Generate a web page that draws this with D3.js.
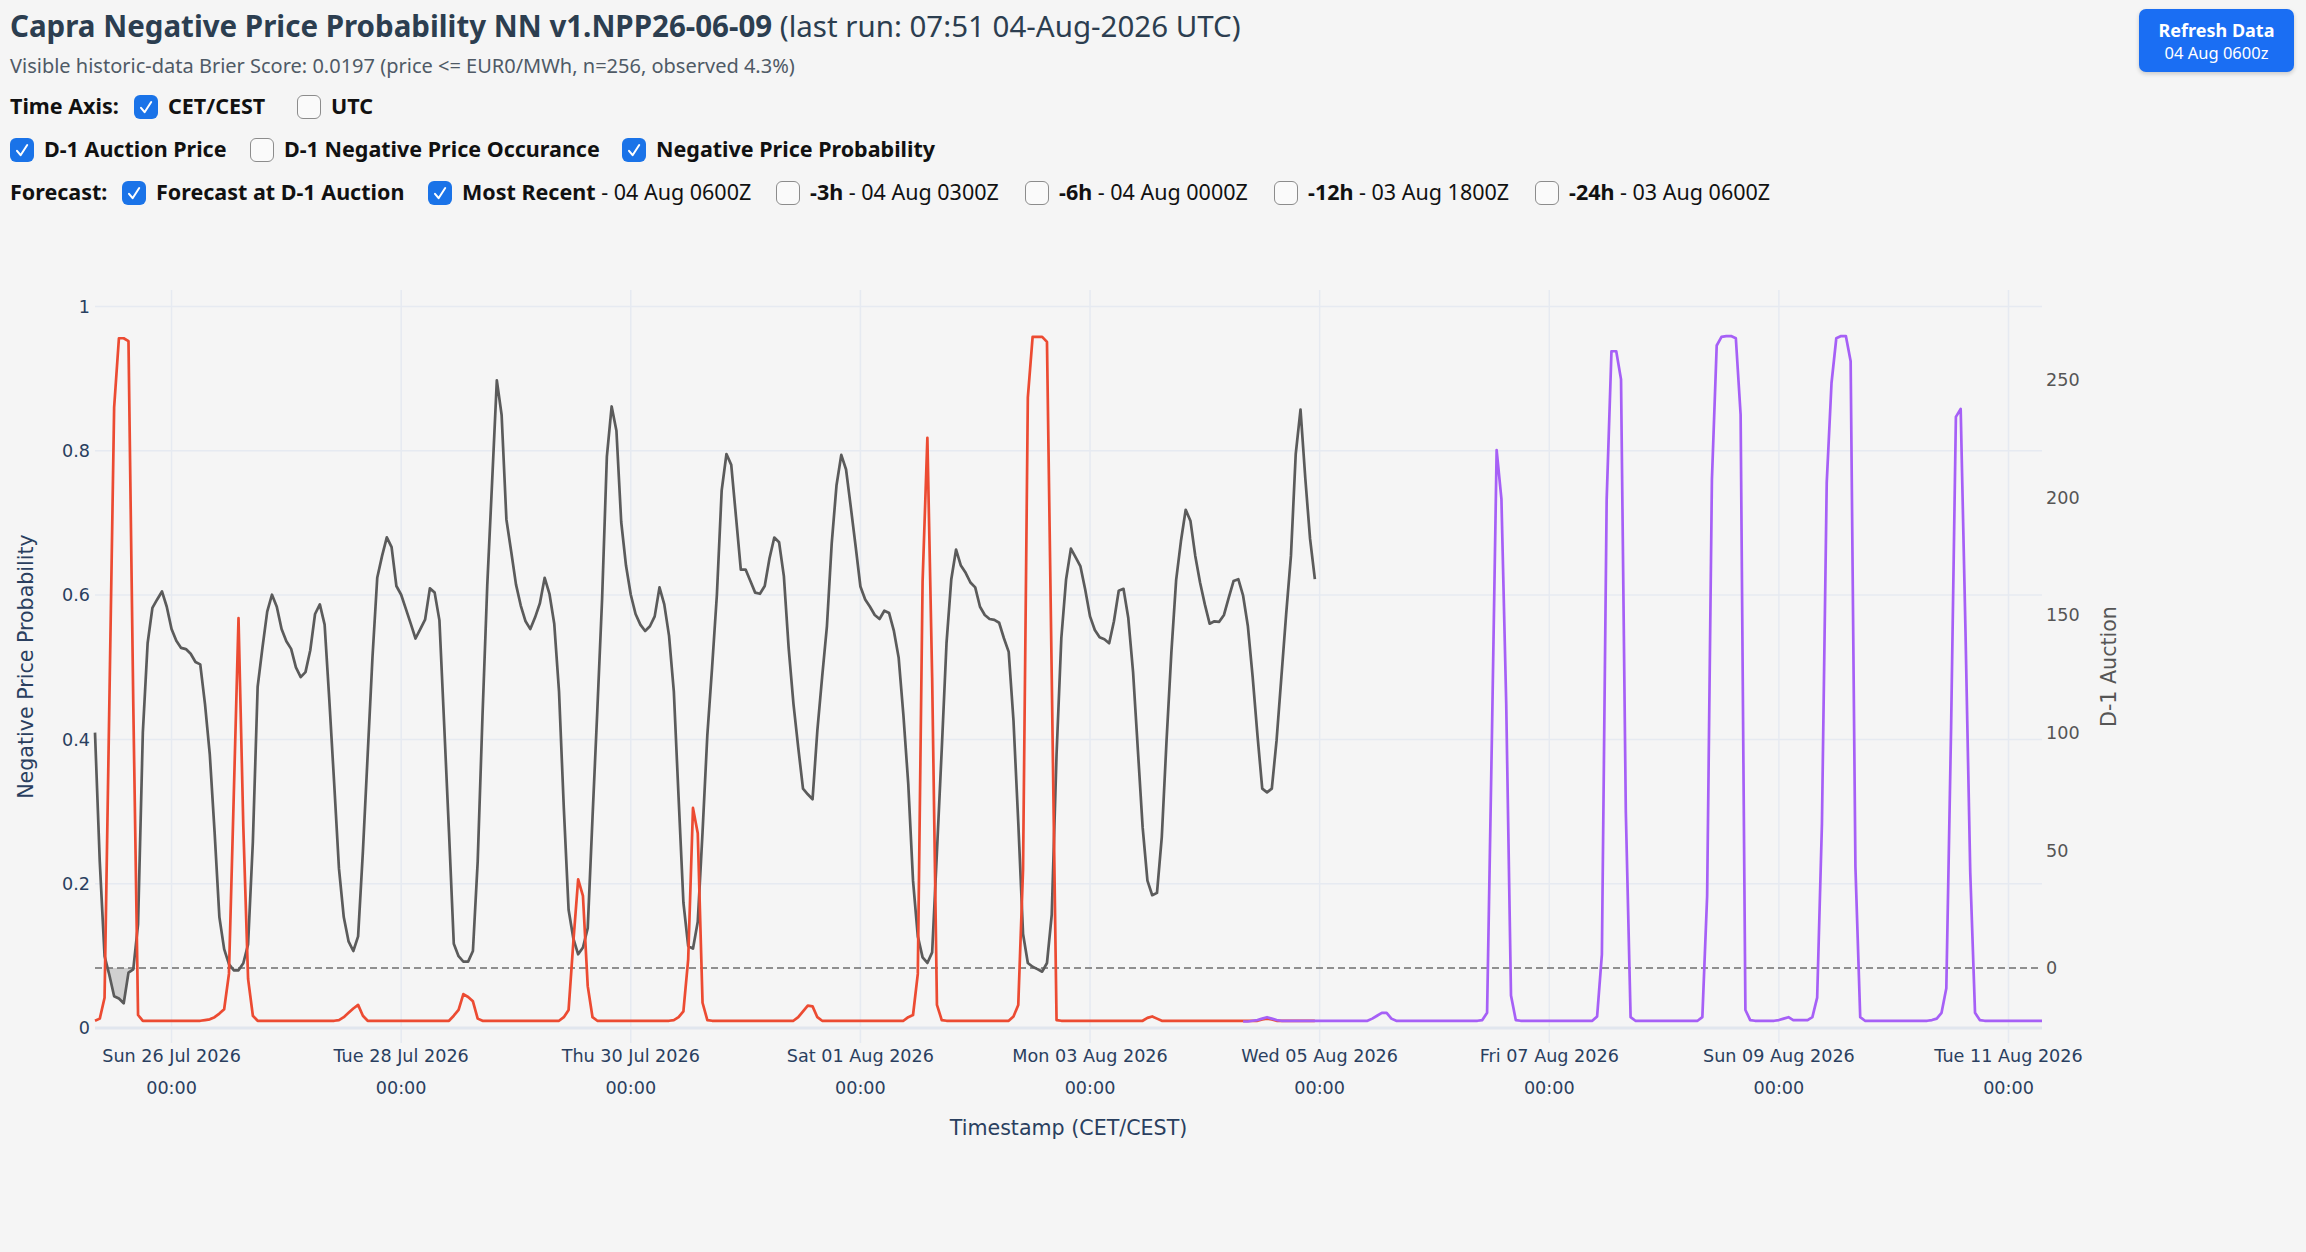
<!DOCTYPE html>
<meta charset="utf-8">
<script src="https://d3js.org/d3.v7.min.js"></script>
<style>
  body { margin: 0; background: #f5f5f5; width: 2306px; height: 1252px; overflow: hidden; position: relative;
         font-family: "Noto Sans", "Open Sans", Arial, sans-serif; }
  .abs { position: absolute; white-space: nowrap; }
  .title { left: 10px; top: 5px; font-size: 29.5px; color: #2c3e50; }
  .sub { left: 10px; top: 52px; font-size: 20px; color: #4f5a66; }
  .lbl { font-size: 21.5px; line-height: 26px; color: #111; font-weight: bold; }
  .lbl .n { font-weight: normal; }
  .cb { position: absolute; width: 24px; height: 24px; border-radius: 6px; box-sizing: border-box; }
  .cb.on { background: #1a73e8; }
  .cb.off { background: #fafafa; border: 1.6px solid #8c8c8c; }
  .cb svg { position: absolute; left: 0; top: 0; }
  .btn { left: 2139px; top: 9px; width: 155px; height: 63px; background: #1a6ef3; border-radius: 7px;
         box-shadow: 0 2px 4px rgba(0,0,0,0.18); color: #fff; text-align: center; }
  .btn .a { font-weight: bold; font-size: 18px; line-height: 22px; margin-top: 10px; }
  .btn .b { font-size: 16.5px; line-height: 20px; margin-top: 2px; }
  #chart { position: absolute; left: 0; top: 0; }
</style>

<div class="abs title"><b>Capra Negative Price Probability NN v1.NPP26-06-09</b> (last run: 07:51 04-Aug-2026 UTC)</div>
<div class="abs sub">Visible historic-data Brier Score: 0.0197 (price &lt;= EUR0/MWh, n=256, observed 4.3%)</div>
<div class="abs btn"><div class="a">Refresh Data</div><div class="b">04 Aug 0600z</div></div>
<div id="boxes"></div>
<svg id="chart" width="2306" height="1252"></svg>

<script>
// ---- data (hourly, CET/CEST) ----
var priceStart = "2026-07-25 08:00";   // D-1 auction price + forecast at D-1 auction
var recentStart = "2026-08-04 08:00";  // most recent forecast run

// D-1 auction price, EUR/MWh
var d1Price = [
  100,45,5,-3,-12,-13,-15,-2,-0.6,18.5,100,138,153,156.6,160,153.5,
  144,139,136,135.5,133.5,130,129,112,90.6,57.7,21.6,8,1.6,-1,-1,2,10,53.6,119.5,136,151.4,158.6,153.5,144,
  138.8,135.6,127.7,123.6,125.7,135,150.4,154.5,145.9,113.3,78.3,42.2,21.6,11.3,7.2,13.4,49.4,90.6,131.8,165.8,175,183,178.8,162.3,
  158.6,152.5,146.3,140,144,148,161.3,159.5,147.7,103,57.7,10.3,5,2.7,2.7,7.2,45.3,107,162.7,206,249.7,235,190.6,177,
  163,154,147.3,144,149,155,165.8,159,146.3,117.4,68,24.7,12.4,5.8,8.7,16.9,63.9,109.2,156.6,217.3,238.6,228.3,189.5,171,
  158.6,150.4,145.9,143.2,145.2,149.4,161.7,154.5,141.1,117.4,72.1,27.8,9.3,8.2,19.6,57.7,98.9,127.7,158.6,202.9,218.4,213.8,191.6,169.3,
  169.3,164.4,159.5,159,162.3,174.1,182.9,180.9,166.5,136,112.3,93.7,76.2,73.8,71.7,100.9,123.6,145.2,180.3,205,218,211.8,195.7,179.2,
  162.1,156.6,153.5,150,148.3,151.8,150.8,143.2,131.8,107.1,78.3,37.1,13.4,4.5,2.1,6.6,49.4,92.7,138,165.2,177.8,171,167.9,163.8,
  161.7,153.5,150,148.3,147.9,146.7,140.1,134.3,105.1,61.8,14.4,2.1,0.5,-0.5,-1.6,2.1,22.7,90.6,140.1,165.2,178.2,174.5,170.6,160.7,
  149.4,143.6,140.5,139.7,138,147.3,160.3,161.1,148.7,125.7,92.7,59.7,37.1,30.9,31.9,55.6,96.8,133.9,164.8,181.3,194.7,189.9,175.1,163.8,
  154.5,146.3,147.3,147.1,150,157.4,164.4,165.2,158.2,145.2,123.6,98.9,76.2,74.6,76.2,96.8,123.6,150.4,175.1,218.4,237.3,208.1,182.3,165.2
];

// negative price probability, forecast at D-1 auction
var probD1 = [
  0.010,0.013,0.042,0.45,0.860,0.956,0.956,0.952,0.45,0.018,0.010,
  0.01,0.01,0.01,0.01,0.01, 0.01,0.01,0.01,0.01,0.01, 0.01,0.01,
  0.011,0.012,0.015,0.020,0.026,0.075,0.32,0.568,0.28,0.068,0.017,
  0.01,0.01,0.01,0.01,0.01, 0.01,0.01,0.01,0.01,0.01, 0.01,0.01,0.01,0.01,0.01, 0.01,0.01,
  0.011,0.015,0.021,0.027,0.032,0.017,
  0.01,0.01,0.01,0.01,0.01, 0.01,0.01,0.01,0.01,0.01, 0.01,0.01,0.01,0.01,0.01, 0.01,0.01,0.01,
  0.017,0.025,0.047,0.043,0.037,0.013,
  0.01,0.01,0.01,0.01,0.01, 0.01,0.01,0.01,0.01,0.01, 0.01,0.01,0.01,0.01,0.01, 0.01,0.01,
  0.015,0.025,0.12,0.206,0.183,0.058,0.015,
  0.01,0.01,0.01,0.01,0.01, 0.01,0.01,0.01,0.01,0.01, 0.01,0.01,0.01,0.01,0.01, 0.01,
  0.011,0.015,0.023,0.095,0.305,0.27,0.035,0.011,
  0.01,0.01,0.01,0.01,0.01, 0.01,0.01,0.01,0.01,0.01, 0.01,0.01,0.01,0.01,0.01, 0.01,0.01,0.01,
  0.015,0.023,0.031,0.030,0.015,
  0.01,0.01,0.01,0.01,0.01, 0.01,0.01,0.01,0.01,0.01, 0.01,0.01,0.01,0.01,0.01, 0.01,0.01,0.01,
  0.015,0.018,0.075,0.619,0.818,0.485,0.032,0.011,
  0.01,0.01,0.01,0.01,0.01, 0.01,0.01,0.01,0.01,0.01, 0.01,0.01,0.01,0.01,
  0.016,0.032,0.22,0.874,0.958,0.958,0.958,0.951,0.485,0.011,
  0.01,0.01,0.01,0.01,0.01, 0.01,0.01,0.01,0.01,0.01, 0.01,0.01,0.01,0.01,0.01, 0.01,0.01,0.01,
  0.014,0.016,0.013,
  0.01,0.01,0.01,0.01,0.01, 0.01,0.01,0.01,0.01,0.01, 0.01,0.01,0.01,0.01,0.01, 0.01,0.01,0.01,0.01,0.01, 0.01,
  0.012,0.013,0.012,
  0.01,0.01,0.01,0.01,0.01, 0.01,0.01,0.01,0.01
];

// negative price probability, most recent run (04 Aug 0600Z)
var probRecent = [
  0.009,0.009,0.010,0.011,0.013,0.015,0.013,0.011,
  0.01,0.01,0.01,0.01,0.01, 0.01,0.01,0.01,0.01,0.01, 0.01,0.01,0.01,0.01,0.01, 0.01,0.01,0.01,0.01,
  0.013,0.017,0.021,0.021,0.013,
  0.01,0.01,0.01,0.01,0.01, 0.01,0.01,0.01,0.01,0.01, 0.01,0.01,0.01,0.01,0.01, 0.01,0.01,0.01,
  0.011,0.021,0.40,0.801,0.733,0.45,0.045,0.011,
  0.01,0.01,0.01,0.01,0.01, 0.01,0.01,0.01,0.01,0.01, 0.01,0.01,0.01,0.01,0.01, 0.01,
  0.016,0.102,0.733,0.938,0.938,0.899,0.30,0.015,
  0.01,0.01,0.01,0.01,0.01, 0.01,0.01,0.01,0.01,0.01, 0.01,0.01,0.01,0.01,
  0.015,0.183,0.760,0.946,0.958,0.959,0.959,0.956,0.850,0.025,0.011,
  0.01,0.01,0.01,0.01,0.01,
  0.011,0.013,0.015,0.011,0.011,0.011,0.011,0.015,0.042,0.283,0.756,0.894,0.956,0.959,0.959,0.924,0.223,0.015,
  0.01,0.01,0.01,0.01,0.01, 0.01,0.01,0.01,0.01,0.01, 0.01,0.01,0.01,0.01,
  0.011,0.013,0.021,0.055,0.417,0.847,0.858,0.552,0.216,0.021,0.011,
  0.01,0.01,0.01,0.01,0.01, 0.01,0.01,0.01,0.01,0.01, 0.01,0.01,0.01
];

var probTicks = [0, 0.2, 0.4, 0.6, 0.8, 1];
var priceTicks = [0, 50, 100, 150, 200, 250];
var tickStart = "2026-07-26 00:00", tickEnd = "2026-08-12 00:00";

// ---- header check boxes ----
var rows = [
  {y: 107, items: [
    {x: 10, label: "Time Axis:"},
    {x: 134, box: true, on: true, label: "CET/CEST"},
    {x: 297, box: true, on: false, label: "UTC"}]},
  {y: 150, items: [
    {x: 10, box: true, on: true, label: "D-1 Auction Price"},
    {x: 250, box: true, on: false, label: "D-1 Negative Price Occurance"},
    {x: 622, box: true, on: true, label: "Negative Price Probability"}]},
  {y: 193, items: [
    {x: 10, label: "Forecast:"},
    {x: 122, box: true, on: true, label: "Forecast at D-1 Auction"},
    {x: 428, box: true, on: true, label: "Most Recent", rest: " - 04 Aug 0600Z"},
    {x: 776, box: true, on: false, label: "-3h", rest: " - 04 Aug 0300Z"},
    {x: 1025, box: true, on: false, label: "-6h", rest: " - 04 Aug 0000Z"},
    {x: 1274, box: true, on: false, label: "-12h", rest: " - 03 Aug 1800Z"},
    {x: 1535, box: true, on: false, label: "-24h", rest: " - 03 Aug 0600Z"}]}
];
var boxes = d3.select("#boxes");
rows.forEach(function(r) {
  r.items.forEach(function(it) {
    var tx = it.x;
    if (it.box) {
      var b = boxes.append("div").attr("class", "cb " + (it.on ? "on" : "off"))
        .style("left", it.x + "px").style("top", (r.y - 12) + "px");
      if (it.on) b.html('<svg width="24" height="24" viewBox="0 0 24 24"><path d="M7 12.8l3.6 4.4 6.6-10.2" stroke="#fff" stroke-width="2" fill="none" stroke-linecap="round" stroke-linejoin="round"/></svg>');
      tx = it.x + 34;
    }
    var t = boxes.append("div").attr("class", "abs lbl")
      .style("left", tx + "px").style("top", (r.y - 14) + "px");
    t.append("span").text(it.label);
    if (it.rest) t.append("span").attr("class", "n").text(it.rest);
  });
});

// ---- chart ----
var parse = d3.utcParse("%Y-%m-%d %H:%M");
var t0 = parse(priceStart), t1 = parse(recentStart);
var priceData = d1Price.map(function(v, i) { return {t: d3.utcHour.offset(t0, i), v: v}; });
var d1Data = probD1.map(function(v, i) { return {t: d3.utcHour.offset(t0, i), v: v}; });
var recentData = probRecent.map(function(v, i) { return {t: d3.utcHour.offset(t1, i), v: v}; });

var plotL = 95, plotR = 2042, plotT = 290, plotB = 1043;
var svg = d3.select("#chart");
var font = '"DejaVu Sans", Verdana, sans-serif';

var x = d3.scaleUtc()
  .domain([t0, recentData[recentData.length - 1].t])
  .range([plotL, plotR]);
var yL = d3.scaleLinear().domain([-0.0208, 1.0229]).range([plotB, plotT]);
var yR = d3.scaleLinear().domain([-31.9, 288.1]).range([plotB, plotT]);

var xTicks = d3.utcDay.range(parse(tickStart), parse(tickEnd)).filter(function(d, i) { return i % 2 === 0; });

// grid
svg.append("g").selectAll("line").data(xTicks).join("line")
  .attr("x1", function(d) { return x(d); }).attr("x2", function(d) { return x(d); })
  .attr("y1", plotT).attr("y2", plotB)
  .attr("stroke", "#e6eaf1").attr("stroke-width", 1.5);
svg.append("g").selectAll("line").data(probTicks.filter(function(d) { return d > 0; })).join("line")
  .attr("x1", plotL).attr("x2", plotR)
  .attr("y1", function(d) { return yL(d); }).attr("y2", function(d) { return yL(d); })
  .attr("stroke", "#e6eaf1").attr("stroke-width", 1.5);
svg.append("line")
  .attr("x1", plotL).attr("x2", plotR).attr("y1", yL(0)).attr("y2", yL(0))
  .attr("stroke", "#e1e6ee").attr("stroke-width", 3);

// price zero reference
svg.append("line")
  .attr("x1", plotL).attr("x2", plotR).attr("y1", yR(0)).attr("y2", yR(0))
  .attr("stroke", "#6e6e6e").attr("stroke-width", 1.5).attr("stroke-dasharray", "7,4");

// negative price fill
svg.append("path").datum(priceData)
  .attr("fill", "rgba(110,110,110,0.28)")
  .attr("d", d3.area()
    .x(function(d) { return x(d.t); })
    .y0(yR(0))
    .y1(function(d) { return yR(Math.min(d.v, 0)); }));

function drawLine(data, yScale, color) {
  svg.append("path").datum(data)
    .attr("fill", "none").attr("stroke", color).attr("stroke-width", 2.7)
    .attr("stroke-linejoin", "round")
    .attr("d", d3.line().x(function(d) { return x(d.t); }).y(function(d) { return yScale(d.v); }));
}
drawLine(priceData, yR, "#5b5b5b");
drawLine(d1Data, yL, "#ec4b32");
drawLine(recentData, yL, "#a660f6");

// x tick labels
var xl = svg.append("g").attr("font-family", font).attr("font-size", 17.6).attr("fill", "#2a3f5f")
  .attr("text-anchor", "middle");
xl.selectAll("text.d").data(xTicks).join("text").attr("class", "d")
  .attr("x", function(d) { return x(d); }).attr("y", 1062)
  .text(d3.utcFormat("%a %d %b %Y"));
xl.selectAll("text.h").data(xTicks).join("text").attr("class", "h")
  .attr("x", function(d) { return x(d); }).attr("y", 1094)
  .text(d3.utcFormat("%H:%M"));

// left ticks
svg.append("g").attr("font-family", font).attr("font-size", 17.6).attr("fill", "#2a3f5f")
  .attr("text-anchor", "end")
  .selectAll("text").data(probTicks).join("text")
  .attr("x", 90).attr("y", function(d) { return yL(d); }).attr("dy", "0.36em")
  .text(function(d) { return (d === 0 || d === 1) ? d : d3.format(".1f")(d); });

// right ticks
svg.append("g").attr("font-family", font).attr("font-size", 17.6).attr("fill", "#555")
  .attr("text-anchor", "start")
  .selectAll("text").data(priceTicks).join("text")
  .attr("x", 2046).attr("y", function(d) { return yR(d); }).attr("dy", "0.36em")
  .text(function(d) { return d; });

// axis titles
svg.append("text").attr("font-family", font).attr("font-size", 20.6).attr("fill", "#2a3f5f")
  .attr("text-anchor", "middle").attr("x", (plotL + plotR) / 2).attr("y", 1135)
  .text("Timestamp (CET/CEST)");
svg.append("text").attr("font-family", font).attr("font-size", 20.6).attr("fill", "#2a3f5f")
  .attr("text-anchor", "middle").attr("transform", "translate(33," + (plotT + plotB) / 2 + ") rotate(-90)")
  .text("Negative Price Probability");
svg.append("text").attr("font-family", font).attr("font-size", 20.6).attr("fill", "#555")
  .attr("text-anchor", "middle").attr("transform", "translate(2116," + (plotT + plotB) / 2 + ") rotate(-90)")
  .text("D-1 Auction");
</script>
